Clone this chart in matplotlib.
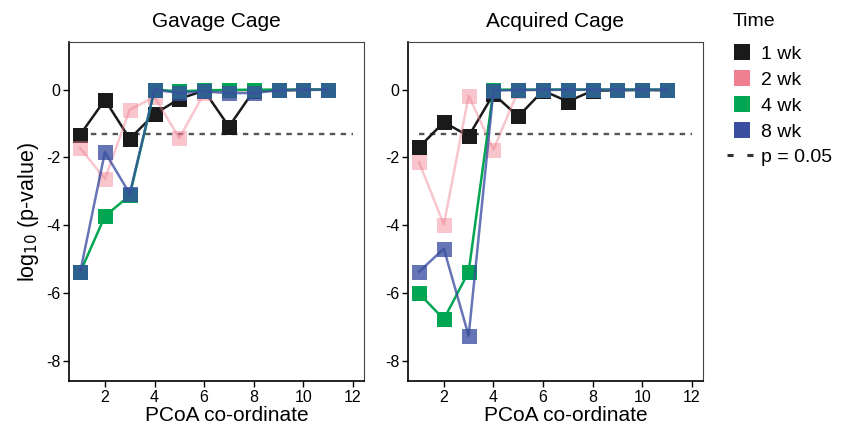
import numpy as np
import matplotlib.pyplot as plt
from matplotlib.lines import Line2D

plt.rcParams['font.family'] = ['Liberation Sans', 'DejaVu Sans']
plt.rcParams['axes.unicode_minus'] = False

coords = np.arange(1, 12)
times = ["1 wk", "2 wk", "4 wk", "8 wk"]
colors = ["#1a1a1a", "#f08090", "#00a651", "#3a4ea0"]
alphas = [1.0, 0.45, 1.0, 0.78]
p_cut = np.log10(0.05)

# log10 p-values
gavage = {
    "1 wk": [-1.33, -0.30, -1.45, -0.72, -0.27, -0.03, -1.09, -0.03, -0.02, -0.01, 0.0],
    "2 wk": [-1.72, -2.63, -0.59, -0.22, -1.43, -0.10, -0.05, -0.02, -0.01, 0.0, 0.0],
    "4 wk": [-5.39, -3.73, -3.12, 0.0, -0.05, -0.02, -0.01, 0.0, 0.0, 0.0, 0.0],
    "8 wk": [-5.39, -1.84, -3.07, 0.0, -0.10, -0.05, -0.10, -0.10, -0.02, 0.0, 0.0],
}
acquired = {
    "1 wk": [-1.70, -0.96, -1.37, -0.13, -0.79, -0.03, -0.35, -0.03, -0.02, -0.01, -0.02],
    "2 wk": [-2.14, -3.98, -0.18, -1.77, -0.03, -0.02, -0.01, 0.0, 0.0, 0.0, 0.0],
    "4 wk": [-6.01, -6.77, -5.37, 0.0, 0.0, 0.0, 0.0, 0.0, 0.0, 0.0, 0.0],
    "8 wk": [-5.37, -4.69, -7.26, -0.03, -0.01, 0.0, 0.0, 0.0, 0.0, 0.0, 0.0],
}

fig = plt.figure(figsize=(8.41, 4.26), dpi=100)
ax1 = fig.add_axes([0.082, 0.105, 0.351, 0.796])
ax2 = fig.add_axes([0.485, 0.105, 0.351, 0.796])

narrow = ['Liberation Sans Narrow', 'Liberation Sans', 'DejaVu Sans']


def draw_panel(ax, data, title):
    ax.plot([1, 12], [p_cut, p_cut], color="#555555", lw=1.7,
            ls=(0, (2.3, 2.3)), zorder=1)
    for t, c, a in zip(times, colors, alphas):
        ax.plot(coords, data[t], color=c, alpha=a, lw=1.8, marker="s",
                markersize=10.8, markeredgewidth=0, zorder=2)
    ax.set_xlim(0.55, 12.45)
    ax.set_ylim(-8.6, 1.4)
    ax.set_xticks([2, 4, 6, 8, 10, 12])
    ax.set_yticks([0, -2, -4, -6, -8])
    ax.tick_params(direction="out", length=4, width=1, labelsize=11.5, pad=2)
    for lab in ax.get_xticklabels() + ax.get_yticklabels():
        lab.set_family(narrow)
    for s in ["top", "right"]:
        ax.spines[s].set_color("#444444")
    for s in ["left", "bottom"]:
        ax.spines[s].set_color("black")
        ax.spines[s].set_linewidth(1.2)
    ax.set_title(title, fontsize=15, pad=11)
    ax.set_xlabel("PCoA co-ordinate", fontsize=15, va="top")
    ax.xaxis.set_label_coords(0.535, -0.073, transform=ax.transAxes)


draw_panel(ax1, gavage, "Gavage Cage")
draw_panel(ax2, acquired, "Acquired Cage")
ax1.set_ylabel("log$_{10}$ (p-value)", fontsize=15.5, labelpad=4)

fig.text(733 / 841, 1 - 22 / 426, "Time", fontsize=14, ha="left", va="center")

handles = [Line2D([], [], ls="none", marker="s", markersize=11.5,
                  markeredgewidth=0, color=c) for c in colors]
handles.append(Line2D([], [], color="#333333", lw=2.2, ls=(0, (2.0, 4.5))))
labels = times + ["p = 0.05"]
leg = fig.legend(handles, labels, loc="upper left", bbox_to_anchor=(0.865, 0.893),
                 frameon=False, fontsize=14, handlelength=1.45,
                 handletextpad=0.3, labelspacing=0.42, borderaxespad=0,
                 borderpad=0)

fig.savefig("out.png", dpi=100)
